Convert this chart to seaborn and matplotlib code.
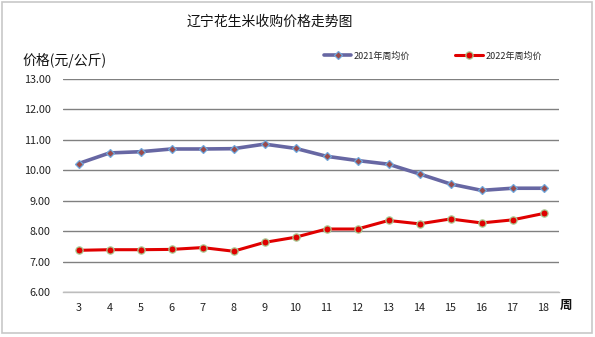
import matplotlib
matplotlib.use("Agg")
import matplotlib.pyplot as plt
from matplotlib.patches import Rectangle
import seaborn as sns
import pandas as pd

weeks = list(range(3, 19))
price_2021 = [10.22, 10.57, 10.61, 10.70, 10.70, 10.71, 10.86, 10.72,
              10.46, 10.32, 10.20, 9.88, 9.55, 9.34, 9.41, 9.41]
price_2022 = [7.37, 7.39, 7.39, 7.40, 7.46, 7.34, 7.63, 7.80,
              8.07, 8.07, 8.35, 8.24, 8.40, 8.27, 8.37, 8.58]
y_ticks = [6, 7, 8, 9, 10, 11, 12, 13]

sns.set_theme(style="white")
plt.rcParams["font.family"] = ["Noto Sans CJK SC", "DejaVu Sans"]

fig = plt.figure(figsize=(5.95, 3.37), dpi=100)
fig.patches.append(Rectangle((2 / 595, 4 / 337), 590 / 595, 331 / 337,
                             transform=fig.transFigure, fill=False,
                             edgecolor="#c8c8c8", linewidth=1.2))
ax = fig.add_axes([63 / 595, 1 - 292 / 337, 496 / 595, 213 / 337])

df21 = pd.DataFrame({"周": weeks, "价格": price_2021})
df22 = pd.DataFrame({"周": weeks, "价格": price_2022})

sns.lineplot(data=df21, x="周", y="价格", ax=ax, color="#6767a3", linewidth=2.6,
             marker="D", markersize=4, markerfacecolor="#9b4a4a",
             markeredgecolor="#6fa8dc", markeredgewidth=0.9,
             label="2021年周均价")
sns.lineplot(data=df22, x="周", y="价格", ax=ax, color="#e00000", linewidth=2.2,
             marker="o", markersize=5.2, markerfacecolor="#e00000",
             markeredgecolor="#a8c890", markeredgewidth=0.9,
             label="2022年周均价")

ax.set_xlim(2.5, 18.5)
ax.set_ylim(6, 13)
ax.set_yticks(y_ticks)
ax.set_yticklabels([f"{v:.2f}" for v in y_ticks])
ax.set_xticks(weeks)
ax.tick_params(axis="both", length=0, labelsize=7.8, colors="#222222")
ax.tick_params(axis="y", pad=9)
ax.tick_params(axis="x", pad=8)
ax.grid(axis="y", color="#808080", linewidth=1.0)
ax.grid(axis="x", visible=False)
for side in ["top", "right", "left"]:
    ax.spines[side].set_visible(False)
ax.spines["bottom"].set_color("#bdbdbd")
ax.spines["bottom"].set_linewidth(1.0)
ax.set_xlabel("")
ax.set_ylabel("")

fig.text(270 / 595, 1 - 22 / 337, "辽宁花生米收购价格走势图", ha="center",
         va="center", fontsize=10, color="#111111")
fig.text(22 / 595, 1 - 60 / 337, "价格(元/公斤)", ha="left", va="center",
         fontsize=10, color="#111111")
fig.text(566 / 595, 1 - 305 / 337, "周", ha="center", va="center",
         fontsize=9, fontweight="bold", color="#111111")

ax.legend(loc="center left", bbox_to_anchor=(316 / 595, 1 - 56 / 337),
          bbox_transform=fig.transFigure, ncol=2, frameon=False,
          fontsize=6.5, handlelength=3.0, columnspacing=5.0, handletextpad=0.3)

fig.savefig("out.png", dpi=100)
